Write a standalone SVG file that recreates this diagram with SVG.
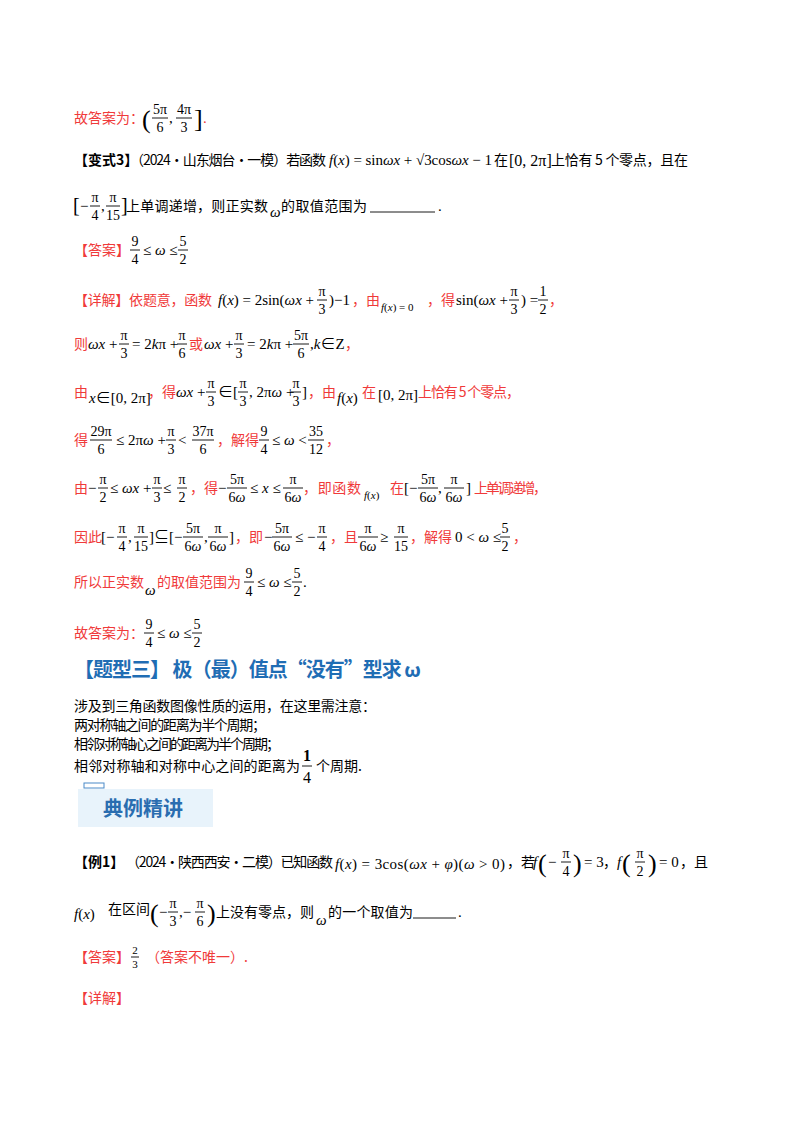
<svg xmlns="http://www.w3.org/2000/svg" width="800" height="1132" viewBox="0 0 800 1132">
<style>
text{font-family:"Liberation Serif","Noto Sans CJK SC",serif;font-size:15px;fill:#000}
.c{font-family:"Noto Sans CJK SC",sans-serif;font-size:14px}
.r{fill:#f03a3a}
.b{font-weight:bold}
.f{font-size:14px;text-anchor:middle}
.s{font-size:11px}
.i{font-style:italic}
.p{font-size:26px}
.q{font-size:20px}
.h{font-size:20px;fill:#1f6db4;font-weight:bold}
.k{font-size:20px;fill:#2a6db0;font-weight:bold}
.g{font-size:16px}
.sf{font-size:11px}
line{stroke:#000;stroke-width:0.9}
</style>
<rect width="800" height="1132" fill="#fff"/>
<g id="l1">
<text class="c r" x="74" y="123">故答案为：</text>
<text class="p" x="142" y="128">(</text>
<text class="f" x="160" y="114">5π</text><line x1="152" x2="168" y1="118" y2="118"/><text class="f" x="160" y="132">6</text>
<text x="169" y="123">,</text>
<text class="f" x="184" y="114">4π</text><line x1="176" x2="192" y1="118" y2="118"/><text class="f" x="184" y="132">3</text>
<text class="p" x="194" y="127">]</text>
<text class="r" x="203" y="123">.</text>
</g>
<g id="l2">
<text class="c b" x="74" y="165">【变式3】</text>
<text class="c" x="130" y="165" textLength="196">（2024·山东烟台·一模）若函数</text>
<text x="329" y="165" textLength="163"><tspan class="i">f</tspan>(<tspan class="i">x</tspan>) = sin<tspan class="i">ωx</tspan> + √3cos<tspan class="i">ωx</tspan> − 1</text>
<text class="c" x="494" y="165">在</text>
<text class="g" x="509" y="166">[0, 2π]</text>
<text class="c" x="551" y="165" textLength="137">上恰有 5 个零点，且在</text>
</g>
<g id="l3">
<text class="q" x="73" y="212">[</text><text x="80" y="211">−</text>
<text class="f" x="95" y="202">π</text><line x1="90" x2="100" y1="206" y2="206"/><text class="f" x="95" y="220">4</text>
<text x="101" y="211">,</text>
<text class="f" x="113" y="202">π</text><line x1="106" x2="120" y1="206" y2="206"/><text class="f" x="113" y="220">15</text>
<text class="q" x="121" y="212">]</text>
<text class="c" x="126" y="211" textLength="142">上单调递增，则正实数</text>
<text class="i" x="270" y="217">ω</text>
<text class="c" x="281" y="211" textLength="86">的取值范围为</text>
<line x1="370" x2="435" y1="212" y2="212" stroke-width="1.3"/>
<text x="438" y="211">.</text>
</g>
<g id="l4">
<text class="c r" x="74" y="255">【答案】</text>
<text class="f" x="135" y="246">9</text><line x1="130" x2="140" y1="250" y2="250"/><text class="f" x="135" y="264">4</text>
<text x="143" y="255">≤ <tspan class="i">ω</tspan> ≤</text>
<text class="f" x="183" y="246">5</text><line x1="178" x2="188" y1="250" y2="250"/><text class="f" x="183" y="264">2</text>
</g>
<g id="l5">
<text class="c r" x="74" y="305" textLength="138">【详解】依题意，函数</text>
<text x="218" y="305" textLength="96"><tspan class="i">f</tspan>(<tspan class="i">x</tspan>) = 2sin(<tspan class="i">ωx</tspan> +</text>
<text class="f" x="322" y="296">π</text><line x1="317" x2="327" y1="300" y2="300"/><text class="f" x="322" y="314">3</text>
<text x="329" y="305">)−1</text>
<text class="c r" x="352" y="305">，由</text>
<text class="s" x="381" y="311"><tspan class="i">f</tspan>(<tspan class="i">x</tspan>) = 0</text>
<text class="c r" x="427" y="305">，得</text>
<text x="456" y="305">sin(<tspan class="i">ωx</tspan> +</text>
<text class="f" x="514" y="296">π</text><line x1="509" x2="519" y1="300" y2="300"/><text class="f" x="514" y="314">3</text>
<text x="521" y="305">) =</text>
<text class="f" x="543" y="296">1</text><line x1="538" x2="548" y1="300" y2="300"/><text class="f" x="543" y="314">2</text>
<text class="c r" x="549" y="305">，</text>
</g>
<g id="l6">
<text class="c r" x="74" y="349">则</text>
<text x="88" y="349"><tspan class="i">ωx</tspan> +</text>
<text class="f" x="124" y="340">π</text><line x1="119" x2="129" y1="344" y2="344"/><text class="f" x="124" y="358">3</text>
<text x="132" y="349">= 2<tspan class="i">k</tspan>π +</text>
<text class="f" x="182" y="340">π</text><line x1="177" x2="187" y1="344" y2="344"/><text class="f" x="182" y="358">6</text>
<text class="c r" x="189" y="349">或</text>
<text x="204" y="349"><tspan class="i">ωx</tspan> +</text>
<text class="f" x="239" y="340">π</text><line x1="234" x2="244" y1="344" y2="344"/><text class="f" x="239" y="358">3</text>
<text x="247" y="349">= 2<tspan class="i">k</tspan>π +</text>
<text class="f" x="301" y="340">5π</text><line x1="293" x2="309" y1="344" y2="344"/><text class="f" x="301" y="358">6</text>
<text x="310" y="349">,<tspan class="i">k</tspan>∈Z</text>
<text class="c r" x="345" y="349">，</text>
</g>
<g id="l7">
<text class="c r" x="74" y="397">由</text>
<text x="89" y="403"><tspan class="i">x</tspan>∈[0, 2π]</text>
<text class="c r" x="148" y="397">，得</text>
<text x="176" y="397"><tspan class="i">ωx</tspan> +</text>
<text class="f" x="211" y="388">π</text><line x1="206" x2="216" y1="392" y2="392"/><text class="f" x="211" y="406">3</text>
<text x="218" y="397">∈[</text>
<text class="f" x="243" y="388">π</text><line x1="238" x2="248" y1="392" y2="392"/><text class="f" x="243" y="406">3</text>
<text x="249" y="397">, 2π<tspan class="i">ω</tspan> +</text>
<text class="f" x="296" y="388">π</text><line x1="291" x2="301" y1="392" y2="392"/><text class="f" x="296" y="406">3</text>
<text x="302" y="397">]</text>
<text class="c r" x="308" y="397">，由</text>
<text x="337" y="403"><tspan class="i">f</tspan>(<tspan class="i">x</tspan>)</text>
<text class="c r" x="362" y="397">在</text>
<text x="378" y="400">[0, 2π]</text>
<text class="c r" x="418" y="397" textLength="102">上恰有 5 个零点，</text>
</g>
<g id="l8">
<text class="c r" x="74" y="445">得</text>
<text class="f" x="101" y="436">29π</text><line x1="90" x2="112" y1="440" y2="440"/><text class="f" x="101" y="454">6</text>
<text x="116" y="445">≤ 2π<tspan class="i">ω</tspan> +</text>
<text class="f" x="171" y="436">π</text><line x1="166" x2="176" y1="440" y2="440"/><text class="f" x="171" y="454">3</text>
<text x="178" y="445">&lt;</text>
<text class="f" x="203" y="436">37π</text><line x1="192" x2="214" y1="440" y2="440"/><text class="f" x="203" y="454">6</text>
<text class="c r" x="217" y="445">，解得</text>
<text class="f" x="264" y="436">9</text><line x1="259" x2="269" y1="440" y2="440"/><text class="f" x="264" y="454">4</text>
<text x="272" y="445">≤ <tspan class="i">ω</tspan> &lt;</text>
<text class="f" x="316" y="436">35</text><line x1="308" x2="324" y1="440" y2="440"/><text class="f" x="316" y="454">12</text>
<text class="c r" x="326" y="445">，</text>
</g>
<g id="l9">
<text class="c r" x="74" y="493">由</text>
<text x="88" y="493">−</text>
<text class="f" x="103" y="484">π</text><line x1="98" x2="108" y1="488" y2="488"/><text class="f" x="103" y="502">2</text>
<text x="110" y="493">≤ <tspan class="i">ωx</tspan> +</text>
<text class="f" x="157" y="484">π</text><line x1="152" x2="162" y1="488" y2="488"/><text class="f" x="157" y="502">3</text>
<text x="163" y="493">≤</text>
<text class="f" x="182" y="484">π</text><line x1="177" x2="187" y1="488" y2="488"/><text class="f" x="182" y="502">2</text>
<text class="c r" x="190" y="493">，得</text>
<text x="218" y="493">−</text>
<text class="f" x="237" y="484">5π</text><line x1="227" x2="247" y1="488" y2="488"/><text class="f" x="237" y="502">6<tspan class="i">ω</tspan></text>
<text x="250" y="493">≤ <tspan class="i">x</tspan> ≤</text>
<text class="f" x="293" y="484">π</text><line x1="283" x2="303" y1="488" y2="488"/><text class="f" x="293" y="502">6<tspan class="i">ω</tspan></text>
<text class="c r" x="303" y="493" textLength="58">，即函数</text>
<text class="s" x="364" y="499"><tspan class="i">f</tspan>(<tspan class="i">x</tspan>)</text>
<text class="c r" x="390" y="493">在</text>
<text x="404" y="493">[−</text>
<text class="f" x="428" y="484">5π</text><line x1="418" x2="438" y1="488" y2="488"/><text class="f" x="428" y="502">6<tspan class="i">ω</tspan></text>
<text x="438" y="493">,</text>
<text class="f" x="454" y="484">π</text><line x1="444" x2="464" y1="488" y2="488"/><text class="f" x="454" y="502">6<tspan class="i">ω</tspan></text>
<text x="466" y="493">]</text>
<text class="c r" x="474" y="493" textLength="73">上单调递增，</text>
</g>
<g id="l10">
<text class="c r" x="74" y="542">因此</text>
<text x="101" y="542">[−</text>
<text class="f" x="122" y="533">π</text><line x1="117" x2="127" y1="537" y2="537"/><text class="f" x="122" y="551">4</text>
<text x="128" y="542">,</text>
<text class="f" x="141" y="533">π</text><line x1="134" x2="148" y1="537" y2="537"/><text class="f" x="141" y="551">15</text>
<text x="149" y="542">]⊆[−</text>
<text class="f" x="193" y="533">5π</text><line x1="183" x2="203" y1="537" y2="537"/><text class="f" x="193" y="551">6<tspan class="i">ω</tspan></text>
<text x="204" y="542">,</text>
<text class="f" x="218" y="533">π</text><line x1="208" x2="228" y1="537" y2="537"/><text class="f" x="218" y="551">6<tspan class="i">ω</tspan></text>
<text x="229" y="542">]</text>
<text class="c r" x="235" y="542">，即</text>
<text x="264" y="542">−</text>
<text class="f" x="282" y="533">5π</text><line x1="272" x2="292" y1="537" y2="537"/><text class="f" x="282" y="551">6<tspan class="i">ω</tspan></text>
<text x="295" y="542">≤ −</text>
<text class="f" x="322" y="533">π</text><line x1="317" x2="327" y1="537" y2="537"/><text class="f" x="322" y="551">4</text>
<text class="c r" x="330" y="542">，且</text>
<text class="f" x="368" y="533">π</text><line x1="358" x2="378" y1="537" y2="537"/><text class="f" x="368" y="551">6<tspan class="i">ω</tspan></text>
<text x="380" y="542">≥</text>
<text class="f" x="401" y="533">π</text><line x1="394" x2="408" y1="537" y2="537"/><text class="f" x="401" y="551">15</text>
<text class="c r" x="410" y="542">，解得</text>
<text x="455" y="542">0 &lt; <tspan class="i">ω</tspan> ≤</text>
<text class="f" x="505" y="533">5</text><line x1="500" x2="510" y1="537" y2="537"/><text class="f" x="505" y="551">2</text>
<text class="c r" x="513" y="542">，</text>
</g>
<g id="l11">
<text class="c r" x="74" y="587" textLength="70">所以正实数</text>
<text class="i" x="145" y="595">ω</text>
<text class="c r" x="157" y="587" textLength="84">的取值范围为</text>
<text class="f" x="249" y="578">9</text><line x1="244" x2="254" y1="582" y2="582"/><text class="f" x="249" y="596">4</text>
<text x="257" y="587">≤ <tspan class="i">ω</tspan> ≤</text>
<text class="f" x="297" y="578">5</text><line x1="292" x2="302" y1="582" y2="582"/><text class="f" x="297" y="596">2</text>
<text x="303" y="587">.</text>
</g>
<g id="l12">
<text class="c r" x="74" y="638">故答案为：</text>
<text class="f" x="149" y="629">9</text><line x1="144" x2="154" y1="633" y2="633"/><text class="f" x="149" y="647">4</text>
<text x="157" y="638">≤ <tspan class="i">ω</tspan> ≤</text>
<text class="f" x="197" y="629">5</text><line x1="192" x2="202" y1="633" y2="633"/><text class="f" x="197" y="647">2</text>
</g>
<g id="heading">
<text class="c h" x="74" y="677" textLength="347">【题型三】 极（最）值点“没有”型求 ω</text>
</g>
<g id="para">
<text class="c" x="74" y="711" textLength="302">涉及到三角函数图像性质的运用，在这里需注意：</text>
<text class="c" x="74" y="730" textLength="192">两对称轴之间的距离为半个周期；</text>
<text class="c" x="74" y="749" textLength="206">相邻对称轴心之间的距离为半个周期；</text>
<text class="c" x="74" y="771" textLength="226">相邻对称轴和对称中心之间的距离为</text>
<text class="f g b" x="307" y="761">1</text><line x1="302" x2="312" y1="766" y2="766"/><text class="f g" x="307" y="783">4</text>
<text class="c" x="316" y="771">个周期.</text>
</g>
<g id="badge">
<rect x="84" y="783" width="20" height="5" fill="none" stroke="#4a8ac8" stroke-width="1"/>
<rect x="78" y="789" width="135" height="38" fill="#e8f3fb"/>
<text class="c k" x="103" y="816">典例精讲</text>
</g>
<g id="ex1">
<text class="c b" x="74" y="867">【例1】</text>
<text class="c" x="126" y="867" textLength="207">（2024·陕西西安·二模）已知函数</text>
<text x="335" y="869" textLength="170"><tspan class="i">f</tspan>(<tspan class="i">x</tspan>) = 3cos(<tspan class="i">ωx</tspan> + <tspan class="i">φ</tspan>)(<tspan class="i">ω</tspan> &gt; 0)</text>
<text class="c" x="507" y="867">，若</text>
<text class="i" x="533" y="867">f</text>
<text class="p" x="538" y="872">(</text>
<text x="548" y="867">−</text>
<text class="f" x="566" y="858">π</text><line x1="561" x2="571" y1="862" y2="862"/><text class="f" x="566" y="876">4</text>
<text class="p" x="573" y="872">)</text>
<text x="584" y="867">= 3</text>
<text class="c" x="603" y="867">，</text>
<text class="i" x="617" y="867">f</text>
<text class="p" x="622" y="872">(</text>
<text class="f" x="640" y="858">π</text><line x1="635" x2="645" y1="862" y2="862"/><text class="f" x="640" y="876">2</text>
<text class="p" x="648" y="872">)</text>
<text x="659" y="867">= 0</text>
<text class="c" x="680" y="867">，且</text>
</g>
<g id="ex1b">
<text x="74" y="919"><tspan class="i">f</tspan>(<tspan class="i">x</tspan>)</text>
<text class="c" x="108" y="914">在区间</text>
<text class="p" x="150" y="922">(</text>
<text x="159" y="917">−</text>
<text class="f" x="173" y="908">π</text><line x1="168" x2="178" y1="912" y2="912"/><text class="f" x="173" y="926">3</text>
<text x="179" y="917">,−</text>
<text class="f" x="200" y="908">π</text><line x1="195" x2="205" y1="912" y2="912"/><text class="f" x="200" y="926">6</text>
<text class="p" x="207" y="922">)</text>
<text class="c" x="216" y="917" textLength="98">上没有零点，则</text>
<text class="i" x="316" y="925">ω</text>
<text class="c" x="328" y="917" textLength="85">的一个取值为</text>
<line x1="413" x2="456" y1="918" y2="918" stroke-width="1.3"/>
<text x="458" y="917">.</text>
</g>
<g id="ans">
<text class="c r" x="74" y="962">【答案】</text>
<text class="f sf" x="135" y="954">2</text><line x1="131" x2="139" y1="957" y2="957"/><text class="f sf" x="135" y="968">3</text>
<text class="c r" x="146" y="962">（答案不唯一）.</text>
<text class="c r" x="74" y="1003">【详解】</text>
</g>
</svg>
